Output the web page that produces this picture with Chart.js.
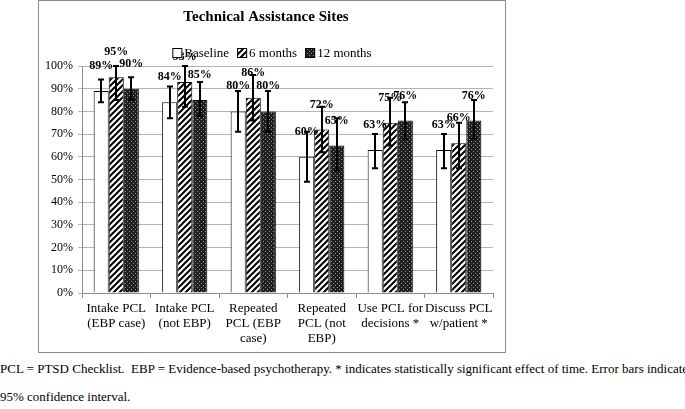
<!DOCTYPE html>
<html>
<head>
<meta charset="utf-8">
<script src="https://cdn.jsdelivr.net/npm/chart.js@4"></script>
<style>
  body { margin: 0; background: #fff; width: 685px; height: 409px; overflow: hidden; position: relative; }
  #box { position: absolute; left: 38px; top: 0; width: 466px; height: 351px; border: 1px solid #8c8c8c; }
  #box canvas { display: block; }
  #caption { position: absolute; left: 0; top: 355px; font: 13px 'Liberation Serif', serif; line-height: 28px; white-space: nowrap; color: #000; }
</style>
</head>
<body>
<div id="box"><canvas id="sitesChart" width="466" height="351"></canvas></div>
<div id="caption">PCL = PTSD Checklist.&nbsp; EBP = Evidence-based psychotherapy. * indicates statistically significant effect of time. Error bars indicate<br>95% confidence interval.</div>
<script>
const categories = [
    ['Intake PCL', '(EBP case)'],
    ['Intake PCL', '(not EBP)'],
    ['Repeated', 'PCL (EBP', 'case)'],
    ['Repeated', 'PCL (not', 'EBP)'],
    ['Use PCL for', 'decisions *'],
    ['Discuss PCL', 'w/patient *']
];
const seriesNames = ['Baseline', '6 months', '12 months'];
const baseline = [89, 84, 80, 60, 63, 63];
const sixMonths = [95, 93, 86, 72, 75, 66];
const twelveMonths = [90, 85, 80, 65, 76, 76];
// 95% confidence intervals (low / high)
const baselineLow = [84, 77, 71, 49, 55, 55];
const baselineHigh = [94, 91, 89, 71, 70, 70];
const sixMonthsLow = [85, 82, 76, 62, 65, 55];
const sixMonthsHigh = [100, 100, 96, 82, 86, 75];
const twelveMonthsLow = [85, 78, 71, 54, 68, 68];
const twelveMonthsHigh = [95, 93, 89, 77, 84, 85];
const yTicks = [0, 10, 20, 30, 40, 50, 60, 70, 80, 90, 100];

Chart.defaults.font.family = "'Liberation Serif', serif";
Chart.defaults.color = '#000';

function hatchPattern() {
    const c = document.createElement('canvas');
    c.width = 6; c.height = 6;
    const g = c.getContext('2d');
    g.fillStyle = '#fff';
    g.fillRect(0, 0, 6, 6);
    g.strokeStyle = '#000';
    g.lineWidth = 2;
    g.beginPath();
    g.moveTo(-1, 7); g.lineTo(7, -1);
    g.moveTo(-4, 4); g.lineTo(4, -4);
    g.moveTo(2, 10); g.lineTo(10, 2);
    g.stroke();
    return g.createPattern(c, 'repeat');
}

function dotPattern() {
    const c = document.createElement('canvas');
    c.width = 4; c.height = 4;
    const g = c.getContext('2d');
    g.fillStyle = '#1e1e1e';
    g.fillRect(0, 0, 4, 4);
    g.fillStyle = '#9a9a9a';
    g.fillRect(0, 0, 1, 1);
    g.fillRect(2, 2, 1, 1);
    return g.createPattern(c, 'repeat');
}

const fills = ['#ffffff', hatchPattern(), dotPattern()];
const errLow = [baselineLow, sixMonthsLow, twelveMonthsLow];
const errHigh = [baselineHigh, sixMonthsHigh, twelveMonthsHigh];

// error bars + value labels
const extrasPlugin = {
    id: 'extras',
    afterDatasetsDraw(chart) {
        const ctx = chart.ctx;
        const y = chart.scales.y;
        ctx.save();
        ctx.strokeStyle = '#000';
        ctx.lineWidth = 2;
        chart.data.datasets.forEach((ds, i) => {
            chart.getDatasetMeta(i).data.forEach((bar, j) => {
                const x = Math.round(bar.x);
                const top = y.getPixelForValue(errHigh[i][j]);
                const bot = y.getPixelForValue(errLow[i][j]);
                ctx.beginPath();
                ctx.moveTo(x, top); ctx.lineTo(x, bot);
                ctx.moveTo(x - 3, top); ctx.lineTo(x + 3, top);
                ctx.moveTo(x - 3, bot); ctx.lineTo(x + 3, bot);
                ctx.stroke();
            });
        });
        ctx.font = "bold 12px 'Liberation Serif', serif";
        ctx.fillStyle = '#000';
        ctx.textAlign = 'center';
        ctx.textBaseline = 'middle';
        chart.data.datasets.forEach((ds, i) => {
            chart.getDatasetMeta(i).data.forEach((bar, j) => {
                ctx.fillText(ds.data[j] + '%', bar.x, bar.y - 25);
            });
        });
        ctx.restore();
    },
    afterDraw(chart) {
        const ctx = chart.ctx;
        ctx.save();
        ctx.font = "13px 'Liberation Serif', serif";
        ctx.textBaseline = 'middle';
        const box = 10, gap = 2, space = 8;
        const widths = chart.data.datasets.map(ds => box + gap + ctx.measureText(ds.label).width);
        const total = widths.reduce((a, b) => a + b, 0) + space * (widths.length - 1);
        let x = (chart.width - total) / 2;
        const cy = chart.chartArea.top - 13;
        chart.data.datasets.forEach((ds, i) => {
            ctx.fillStyle = ds.backgroundColor;
            ctx.fillRect(x, cy - 5, box, box);
            ctx.strokeStyle = '#000';
            ctx.lineWidth = 1;
            ctx.strokeRect(x + 0.5, cy - 4.5, box - 1, box - 1);
            ctx.fillStyle = '#000';
            ctx.fillText(ds.label, x + box + gap, cy + 1);
            x += widths[i] + space;
        });
        ctx.restore();
    }
};

const series = [baseline, sixMonths, twelveMonths];

new Chart(document.getElementById('sitesChart'), {
    type: 'bar',
    data: {
        labels: categories,
        datasets: series.map((vals, i) => ({
            label: seriesNames[i],
            data: vals,
            backgroundColor: fills[i],
            borderColor: '#000',
            borderWidth: 1,
            categoryPercentage: 0.66,
            barPercentage: 1.0
        }))
    },
    options: {
        responsive: false,
        animation: false,
        layout: { padding: { top: 0, right: 12, bottom: 0, left: 0 } },
        plugins: {
            legend: { display: false },
            tooltip: { enabled: false },
            title: {
                display: true,
                text: 'Technical Assistance Sites',
                color: '#000',
                font: { size: 15, weight: 'bold', lineHeight: 1.2 },
                padding: { top: 7, bottom: 40 }
            }
        },
        scales: {
            x: {
                grid: { drawOnChartArea: false, tickLength: 5, color: '#8c8c8c' },
                border: { color: '#8c8c8c' },
                ticks: { font: { size: 13, lineHeight: 1.15 }, color: '#000', padding: 3, maxRotation: 0, autoSkip: false },
                afterFit(scale) { scale.height = 59; }
            },
            y: {
                min: 0,
                max: 100,
                afterBuildTicks(scale) { scale.ticks = yTicks.map(v => ({ value: v })); },
                ticks: { font: { size: 12 }, color: '#000', padding: 5, callback: v => v + '%' },
                grid: { color: '#b4b4b4', tickLength: 4 },
                border: { color: '#8c8c8c' },
                afterFit(scale) { scale.width = 43; }
            }
        }
    },
    plugins: [extrasPlugin]
});
</script>
</body>
</html>
